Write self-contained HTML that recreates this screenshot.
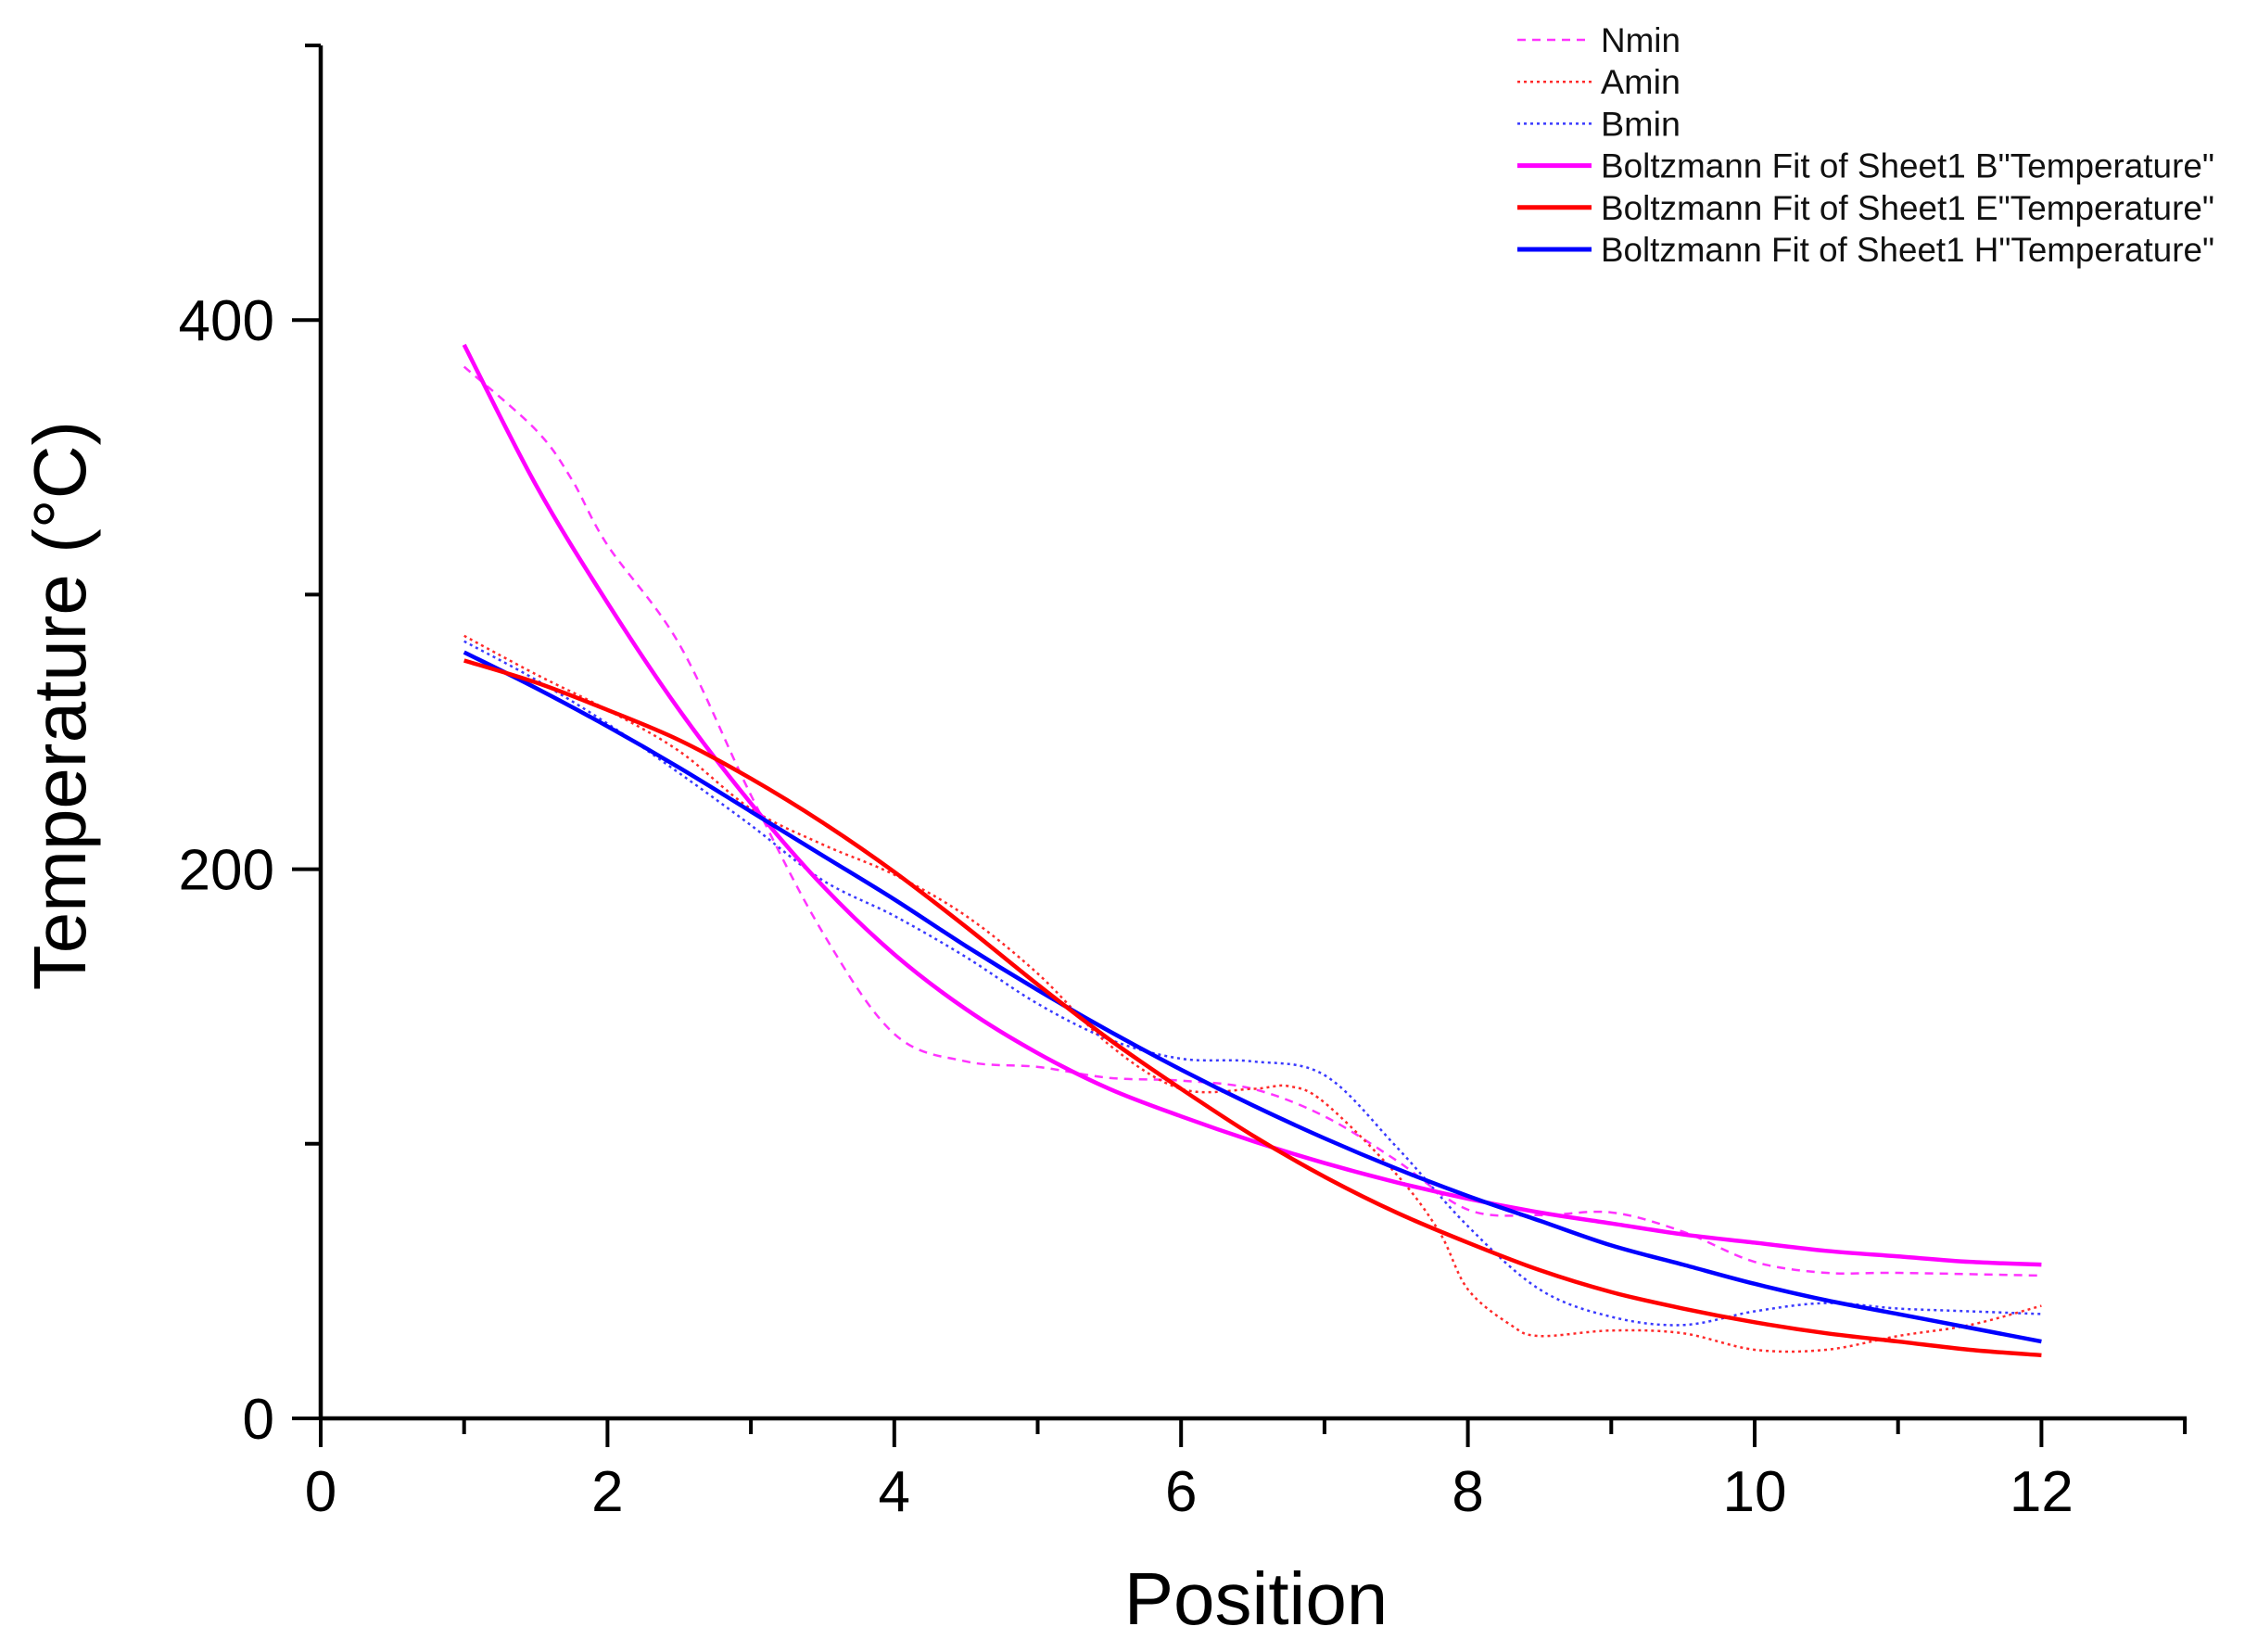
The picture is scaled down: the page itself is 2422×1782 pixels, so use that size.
<!DOCTYPE html>
<html><head><meta charset="utf-8"><style>
html,body{margin:0;padding:0;background:#fff;}
svg{display:block;font-family:"Liberation Sans",Arial,sans-serif;}
</style></head><body>
<svg id="chart" width="2422" height="1782" viewBox="0 0 2422 1782">
<g id="axes"></g>
<g id="series"></g>
<g id="legend"></g>
<text x="1355" y="1752" font-size="80" text-anchor="middle" fill="#000">Position</text>
<text transform="translate(92,761) rotate(-90)" font-size="80" text-anchor="middle" fill="#000">Temperature (°C)</text>
</svg>
<script>
const xTicks = [0,2,4,6,8,10,12];
const yTicks = [0,200,400];
const fitX = [1,1.5,2,2.5,3,3.5,4,4.5,5,5.5,6,6.5,7,7.5,8,8.5,9,9.5,10,10.5,11,11.5,12];
const fitB = [391,340,297,258,224,194,169,149,133,120,110,101,93,86,80,75,71,67,64,61,59,57,56];
const fitE = [276,268,258,247,233,217,199,179,158,138,120,103,88,75,64,54,46,40,35,31,28,25,23];
const fitH = [279,266,252,237,221,205,189,172,156,141,127,114,102,91,81,72,63,56,49,43,38,33,28];
const nminX = [1,1.5,1.75,2,2.5,3,3.5,4,4.5,5,5.5,6,6.5,7,7.5,8,8.5,9,9.5,10,10.5,11,12];
const nminY = [383,360,342,318,282,227,177,140,130,128,124,123,120,110,94,76,74,75,68,57,53,53,52];
const aminX = [1,1.5,2,2.5,3,3.5,4,4.5,5,5.5,6,6.5,6.75,7,7.5,7.8,8,8.3,8.5,9,9.5,10,10.5,11,11.5,12];
const aminY = [285,271,258,243,222,209,198,183,162,136,120,120,121,115,89,68,47,34,30,32,31,25,25,30,34,41];
const bminX = [1,1.5,2,2.5,3,3.5,4,4.5,5,5.5,6,6.5,7,7.5,8,8.5,9,9.5,10,10.5,11,11.5,12];
const bminY = [283,269,253,235,216,196,183,168,151,138,131,130,125,99,70,47,37,34,39,42,40,39,38];

const NS = "http://www.w3.org/2000/svg";
const X0 = 346, XU = 154.7, Y0 = 1530, YU = 2.962;
const sx = v => X0 + v*XU;
const sy = v => Y0 - v*YU;
function mk(tag, attrs, parent){const e=document.createElementNS(NS,tag);for(const k in attrs)e.setAttribute(k,attrs[k]);parent.appendChild(e);return e;}
const axes = document.getElementById('axes');
let a = mk('line',{x1:sx(0),y1:sy(500),x2:sx(0),y2:Y0+2,stroke:'#000','stroke-width':4.5},axes);


a = mk('line',{x1:sx(0)-2,y1:Y0,x2:sx(13)+2,y2:Y0,stroke:'#000','stroke-width':4.5},axes);


for(let v=0; v<=13; v++){
  const major = v%2===0;
  const t = mk('line',{x1:sx(v),y1:Y0,x2:sx(v),y2:Y0+(major?31:17),stroke:'#000','stroke-width':4},axes);
  
  
}
xTicks.forEach(v=>{
  const t = mk('text',{x:sx(v),y:1630,'font-size':62,'text-anchor':'middle',fill:'#000'},axes);
  t.textContent = v;
  
  
});
for(let v=0; v<=500; v+=100){
  const major = v%200===0;
  const t = mk('line',{x1:sx(0)-(major?31:17),y1:sy(v),x2:sx(0),y2:sy(v),stroke:'#000','stroke-width':4},axes);
  
  
}
yTicks.forEach(v=>{
  const t = mk('text',{x:296,y:sy(v)+22,'font-size':62,'text-anchor':'end',fill:'#000'},axes);
  t.textContent = v;
  
  
});
function smoothPath(xs, ys){
  const p = xs.map((x,i)=>[sx(x),sy(ys[i])]);
  let d = `M${p[0][0]},${p[0][1]}`;
  for(let i=0;i<p.length-1;i++){
    const p0=p[Math.max(0,i-1)],p1=p[i],p2=p[i+1],p3=p[Math.min(p.length-1,i+2)];
    const c1=[p1[0]+(p2[0]-p0[0])/6,p1[1]+(p2[1]-p0[1])/6];
    const c2=[p2[0]-(p3[0]-p1[0])/6,p2[1]-(p3[1]-p1[1])/6];
    d+=` C${c1[0]},${c1[1]} ${c2[0]},${c2[1]} ${p2[0]},${p2[1]}`;
  }
  return d;
}
const series = document.getElementById('series');
const defs = [
  {xs:nminX,ys:nminY,c:'#ff33ff',w:2.5,dash:'9,7',name:'nmin-line'},
  {xs:aminX,ys:aminY,c:'#ff2a2a',w:2.5,dash:'3,4',name:'amin-line'},
  {xs:bminX,ys:bminY,c:'#3a3aff',w:2.5,dash:'3,4',name:'bmin-line'},
  {xs:fitX,ys:fitB,c:'#ff00ff',w:4.5,dash:'',name:'fit-b-line'},
  {xs:fitX,ys:fitH,c:'#0000ff',w:4.5,dash:'',name:'fit-h-line'},
  {xs:fitX,ys:fitE,c:'#ff0000',w:4.5,dash:'',name:'fit-e-line'}
];
defs.forEach(s=>{
  const attrs={d:smoothPath(s.xs,s.ys),fill:'none',stroke:s.c,'stroke-width':s.w};
  if(s.dash) attrs['stroke-dasharray']=s.dash;
  const p = mk('path',attrs,series);
  
  
});
const legendItems = [
  {t:'Nmin',c:'#ff33ff',w:2.5,dash:'9,7'},
  {t:'Amin',c:'#ff2a2a',w:2.5,dash:'3,4'},
  {t:'Bmin',c:'#3a3aff',w:2.5,dash:'3,4'},
  {t:'Boltzmann Fit of Sheet1 B"Temperature"',c:'#ff00ff',w:5,dash:''},
  {t:'Boltzmann Fit of Sheet1 E"Temperature"',c:'#ff0000',w:5,dash:''},
  {t:'Boltzmann Fit of Sheet1 H"Temperature"',c:'#0000ff',w:5,dash:''}
];
const legend = document.getElementById('legend');
legendItems.forEach((it,i)=>{
  const y = 43 + i*45.2;
  const g = mk('g',{},legend);
  
  
  const la={x1:1637,y1:y,x2:1717,y2:y,stroke:it.c,'stroke-width':it.w};
  if(it.dash) la['stroke-dasharray']=it.dash;
  mk('line',la,g);
  const t = mk('text',{x:1727,y:y+13,'font-size':37,fill:'#111'},g);
  if(it.t.length>10){ t.setAttribute('textLength','662'); t.setAttribute('lengthAdjust','spacingAndGlyphs'); }
  else { t.setAttribute('textLength','86'); t.setAttribute('lengthAdjust','spacingAndGlyphs'); }
  t.textContent = it.t;
});
</script>
</body></html>
